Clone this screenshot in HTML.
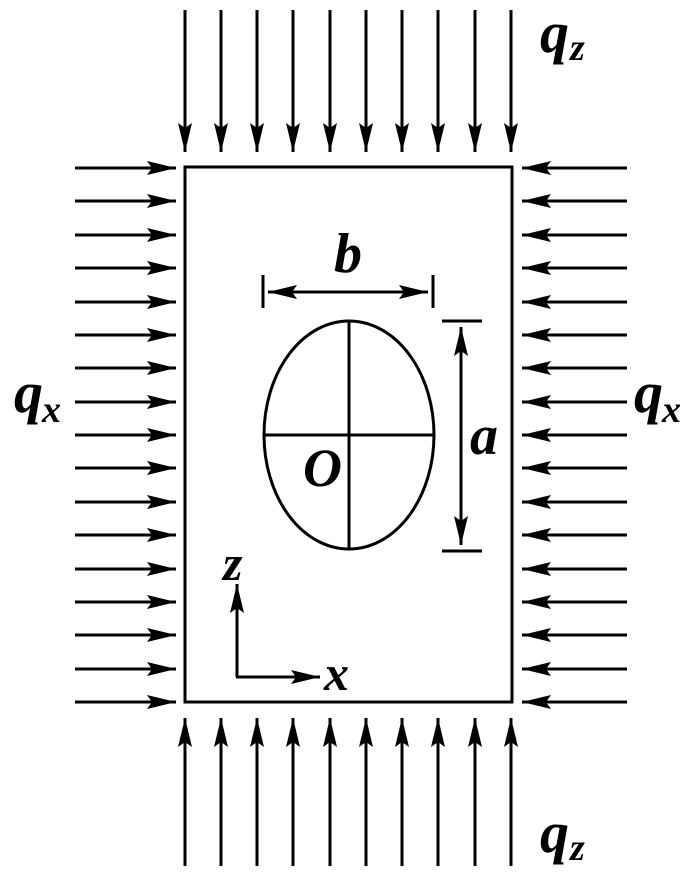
<!DOCTYPE html>
<html><head><meta charset="utf-8"><style>html,body{margin:0;padding:0;background:#fff}svg{display:block}</style></head>
<body>
<svg width="700" height="873" viewBox="0 0 700 873" xmlns="http://www.w3.org/2000/svg">
<defs>
<marker id="ah" markerUnits="userSpaceOnUse" markerWidth="32" markerHeight="16" refX="29" refY="8" orient="auto"><path d="M0,1 L29,8 L0,15 L5,8 Z" fill="#000"/></marker>
</defs>
<g stroke="#000" stroke-width="3" fill="none">
<rect x="185" y="167" width="327" height="535"/>
<line x1="185" y1="10" x2="185" y2="152" marker-end="url(#ah)"/>
<line x1="221" y1="10" x2="221" y2="152" marker-end="url(#ah)"/>
<line x1="257" y1="10" x2="257" y2="152" marker-end="url(#ah)"/>
<line x1="293" y1="10" x2="293" y2="152" marker-end="url(#ah)"/>
<line x1="330" y1="10" x2="330" y2="152" marker-end="url(#ah)"/>
<line x1="366" y1="10" x2="366" y2="152" marker-end="url(#ah)"/>
<line x1="402" y1="10" x2="402" y2="152" marker-end="url(#ah)"/>
<line x1="438" y1="10" x2="438" y2="152" marker-end="url(#ah)"/>
<line x1="475" y1="10" x2="475" y2="152" marker-end="url(#ah)"/>
<line x1="511" y1="10" x2="511" y2="152" marker-end="url(#ah)"/>
<line x1="185" y1="866" x2="185" y2="718" marker-end="url(#ah)"/>
<line x1="221" y1="866" x2="221" y2="718" marker-end="url(#ah)"/>
<line x1="257" y1="866" x2="257" y2="718" marker-end="url(#ah)"/>
<line x1="293" y1="866" x2="293" y2="718" marker-end="url(#ah)"/>
<line x1="330" y1="866" x2="330" y2="718" marker-end="url(#ah)"/>
<line x1="366" y1="866" x2="366" y2="718" marker-end="url(#ah)"/>
<line x1="402" y1="866" x2="402" y2="718" marker-end="url(#ah)"/>
<line x1="438" y1="866" x2="438" y2="718" marker-end="url(#ah)"/>
<line x1="475" y1="866" x2="475" y2="718" marker-end="url(#ah)"/>
<line x1="511" y1="866" x2="511" y2="718" marker-end="url(#ah)"/>
<line x1="75" y1="168" x2="176" y2="168" marker-end="url(#ah)"/>
<line x1="75" y1="201" x2="176" y2="201" marker-end="url(#ah)"/>
<line x1="75" y1="235" x2="176" y2="235" marker-end="url(#ah)"/>
<line x1="75" y1="268" x2="176" y2="268" marker-end="url(#ah)"/>
<line x1="75" y1="302" x2="176" y2="302" marker-end="url(#ah)"/>
<line x1="75" y1="335" x2="176" y2="335" marker-end="url(#ah)"/>
<line x1="75" y1="368" x2="176" y2="368" marker-end="url(#ah)"/>
<line x1="75" y1="402" x2="176" y2="402" marker-end="url(#ah)"/>
<line x1="75" y1="435" x2="176" y2="435" marker-end="url(#ah)"/>
<line x1="75" y1="468" x2="176" y2="468" marker-end="url(#ah)"/>
<line x1="75" y1="502" x2="176" y2="502" marker-end="url(#ah)"/>
<line x1="75" y1="535" x2="176" y2="535" marker-end="url(#ah)"/>
<line x1="75" y1="569" x2="176" y2="569" marker-end="url(#ah)"/>
<line x1="75" y1="602" x2="176" y2="602" marker-end="url(#ah)"/>
<line x1="75" y1="635" x2="176" y2="635" marker-end="url(#ah)"/>
<line x1="75" y1="669" x2="176" y2="669" marker-end="url(#ah)"/>
<line x1="75" y1="702" x2="176" y2="702" marker-end="url(#ah)"/>
<line x1="627" y1="168" x2="522" y2="168" marker-end="url(#ah)"/>
<line x1="627" y1="201" x2="522" y2="201" marker-end="url(#ah)"/>
<line x1="627" y1="235" x2="522" y2="235" marker-end="url(#ah)"/>
<line x1="627" y1="268" x2="522" y2="268" marker-end="url(#ah)"/>
<line x1="627" y1="302" x2="522" y2="302" marker-end="url(#ah)"/>
<line x1="627" y1="335" x2="522" y2="335" marker-end="url(#ah)"/>
<line x1="627" y1="368" x2="522" y2="368" marker-end="url(#ah)"/>
<line x1="627" y1="402" x2="522" y2="402" marker-end="url(#ah)"/>
<line x1="627" y1="435" x2="522" y2="435" marker-end="url(#ah)"/>
<line x1="627" y1="468" x2="522" y2="468" marker-end="url(#ah)"/>
<line x1="627" y1="502" x2="522" y2="502" marker-end="url(#ah)"/>
<line x1="627" y1="535" x2="522" y2="535" marker-end="url(#ah)"/>
<line x1="627" y1="569" x2="522" y2="569" marker-end="url(#ah)"/>
<line x1="627" y1="602" x2="522" y2="602" marker-end="url(#ah)"/>
<line x1="627" y1="635" x2="522" y2="635" marker-end="url(#ah)"/>
<line x1="627" y1="669" x2="522" y2="669" marker-end="url(#ah)"/>
<line x1="627" y1="702" x2="522" y2="702" marker-end="url(#ah)"/>
<ellipse cx="349" cy="435" rx="85" ry="114"/>
<line x1="264" y1="435" x2="434" y2="435"/>
<line x1="349" y1="321" x2="349" y2="549"/>
<line x1="263" y1="275" x2="263" y2="308"/>
<line x1="433" y1="275" x2="433" y2="308"/>
<line x1="268" y1="292" x2="428" y2="292" marker-end="url(#ah)"/>
<line x1="428" y1="292" x2="268" y2="292" marker-end="url(#ah)"/>
<line x1="442" y1="321" x2="482" y2="321"/>
<line x1="442" y1="551" x2="482" y2="551"/>
<line x1="461" y1="545" x2="461" y2="327" marker-end="url(#ah)"/>
<line x1="461" y1="327" x2="461" y2="545" marker-end="url(#ah)"/>
<line x1="237" y1="677" x2="237" y2="584" marker-end="url(#ah)"/>
<line x1="236" y1="677" x2="320" y2="677" marker-end="url(#ah)"/>
</g>
<g font-family="'Liberation Serif', 'DejaVu Serif', serif" font-style="italic" font-weight="bold" fill="#000">
<text x="540" y="52" font-size="58">q</text><text x="570" y="60" font-size="38">z</text>
<text x="540" y="852" font-size="58">q</text><text x="570" y="860" font-size="38">z</text>
<text x="14" y="412" font-size="58">q</text><text x="42" y="422" font-size="38">x</text>
<text x="634" y="412" font-size="58">q</text><text x="662" y="422" font-size="38">x</text>
<text x="334" y="272" font-size="56">b</text>
<text x="470" y="454" font-size="56">a</text>
<text x="303" y="486" font-size="54">O</text>
<text x="223" y="580" font-size="50">z</text>
<text x="324" y="690" font-size="50">x</text>
</g>
</svg>
</body></html>
